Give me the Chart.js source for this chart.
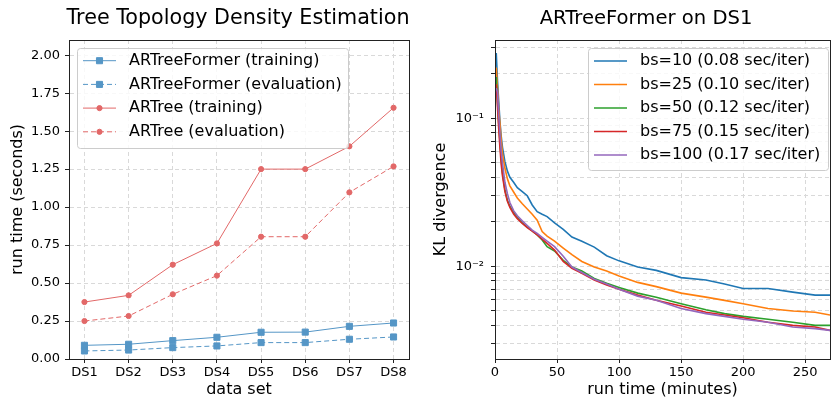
<!DOCTYPE html>
<html><head><meta charset="utf-8">
<script src="https://cdn.jsdelivr.net/npm/chart.js@4.4.1/dist/chart.umd.min.js"></script>
<style>
html,body{margin:0;padding:0;background:#fff;}
#wrap{position:relative;width:831px;height:399px;overflow:hidden;background:#fff;}
.box{position:absolute;top:0;height:399px;}
canvas{display:block;}
</style></head><body>
<div id="wrap">
<div class="box" style="left:0;width:415px"><canvas id="c1" width="415" height="399"></canvas></div>
<div class="box" style="left:415px;width:416px"><canvas id="c2" width="416" height="399"></canvas></div>
</div>
<script>
// ---------- data: left chart ----------
const categories = ['DS1','DS2','DS3','DS4','DS5','DS6','DS7','DS8'];
const artreeformerTraining = [0.090, 0.097, 0.121, 0.143, 0.176, 0.177, 0.215, 0.237];
const artreeformerEvaluation = [0.053, 0.059, 0.075, 0.086, 0.108, 0.108, 0.130, 0.145];
const artreeTraining = [0.375, 0.419, 0.621, 0.761, 1.250, 1.250, 1.400, 1.654];
const artreeEvaluation = [0.250, 0.283, 0.426, 0.549, 0.805, 0.805, 1.097, 1.268];
const leftYTicks = [0, 0.25, 0.5, 0.75, 1.0, 1.25, 1.5, 1.75, 2.0];
const leftSeriesLabels = ['ARTreeFormer (training)','ARTreeFormer (evaluation)','ARTree (training)','ARTree (evaluation)'];

// ---------- data: right chart ----------
const runTimeMinutes = [1, 2, 3, 4, 5, 6, 8, 10, 12, 15, 18, 22, 26, 30, 34, 38, 42, 48, 55, 62, 70, 80, 90, 100, 115, 130, 150, 170, 185, 200, 220, 240, 258, 270];
const klBs10  = [0.276, 0.18, 0.13, 0.095, 0.076, 0.064, 0.051, 0.044, 0.040, 0.037, 0.034, 0.032, 0.030, 0.026, 0.0234, 0.0225, 0.0217, 0.0197, 0.0178, 0.0158, 0.0148, 0.0135, 0.0118, 0.0109, 0.0099, 0.0094, 0.0084, 0.0081, 0.0076, 0.0071, 0.0071, 0.0067, 0.0064, 0.0064];
const klBs25  = [0.22, 0.16, 0.115, 0.092, 0.071, 0.058, 0.046, 0.039, 0.035, 0.0318, 0.029, 0.0265, 0.0244, 0.0225, 0.0205, 0.0172, 0.0160, 0.0148, 0.0133, 0.0120, 0.0108, 0.0099, 0.0093, 0.0086, 0.0078, 0.0073, 0.0066, 0.0062, 0.0059, 0.0056, 0.0052, 0.0050, 0.0049, 0.0047];
const klBs50  = [0.19, 0.13, 0.092, 0.070, 0.053, 0.043, 0.033, 0.028, 0.0255, 0.0232, 0.0214, 0.0197, 0.0184, 0.0174, 0.0163, 0.0151, 0.0136, 0.0127, 0.0110, 0.0099, 0.0093, 0.0083, 0.0077, 0.0072, 0.0066, 0.0062, 0.0056, 0.0051, 0.0048, 0.0046, 0.0044, 0.0042, 0.0040, 0.0040];
const klBs75  = [0.17, 0.12, 0.085, 0.063, 0.049, 0.041, 0.032, 0.0275, 0.0250, 0.0226, 0.0210, 0.0195, 0.0183, 0.0173, 0.0163, 0.0153, 0.0143, 0.0129, 0.0108, 0.0097, 0.0090, 0.0081, 0.0075, 0.0070, 0.0064, 0.0059, 0.0054, 0.0049, 0.0047, 0.0045, 0.0042, 0.0040, 0.0039, 0.0037];
const klBs100 = [0.16, 0.15, 0.105, 0.078, 0.060, 0.050, 0.037, 0.031, 0.027, 0.0238, 0.0220, 0.0203, 0.0189, 0.0176, 0.0167, 0.0157, 0.0148, 0.0136, 0.0117, 0.0099, 0.0091, 0.0082, 0.0076, 0.0070, 0.0063, 0.0059, 0.0052, 0.0048, 0.0046, 0.0044, 0.0042, 0.0039, 0.0038, 0.0037];
const rightSeriesLabels = ['bs=10 (0.08 sec/iter)','bs=25 (0.10 sec/iter)','bs=50 (0.12 sec/iter)','bs=75 (0.15 sec/iter)','bs=100 (0.17 sec/iter)'];
const rightXTicks = [0, 50, 100, 150, 200, 250];
const rightYTicks = [0.003,0.004,0.005,0.006,0.007,0.008,0.009,0.01,0.02,0.03,0.04,0.05,0.06,0.07,0.08,0.09,0.1,0.2,0.3];
const rightYMajorLabels = {0.1: '10\u207B\u00B9', 0.01: '10\u207B\u00B2'};

// ---------- styling ----------
const FONT = 'DejaVu Sans';
Chart.defaults.font.family = FONT;
Chart.defaults.color = '#000';
const BLUE = '#5596c6';
const RED = '#e26868';
const TAB = ['#1f77b4','#ff7f0e','#2ca02c','#d62728','#9467bd'];
const GRID = '#d9d9d9';

function roundRect(ctx, x, y, w, h, r) {
  ctx.beginPath();
  ctx.moveTo(x + r, y);
  ctx.lineTo(x + w - r, y); ctx.arcTo(x + w, y, x + w, y + r, r);
  ctx.lineTo(x + w, y + h - r); ctx.arcTo(x + w, y + h, x + w - r, y + h, r);
  ctx.lineTo(x + r, y + h); ctx.arcTo(x, y + h, x, y + h - r, r);
  ctx.lineTo(x, y + r); ctx.arcTo(x, y, x + r, y, r);
  ctx.closePath();
}
function drawMarker(ctx, style, r, x, y, color) {
  ctx.fillStyle = color; ctx.strokeStyle = color; ctx.lineWidth = 1;
  ctx.beginPath();
  if (style === 'rect') { const s = r * Math.SQRT1_2; ctx.rect(x - s, y - s, 2 * s, 2 * s); }
  else { ctx.arc(x, y, r, 0, Math.PI * 2); }
  ctx.fill(); ctx.stroke();
}

const extras = {
  id: 'extras',
  afterDraw(chart, args, o) {
    const ctx = chart.ctx, a = chart.chartArea;
    ctx.save();
    // legend
    const L = o.legend;
    roundRect(ctx, L.x + 0.5, L.y + 0.5, L.w, L.h, 3);
    ctx.fillStyle = 'rgba(255,255,255,0.8)'; ctx.fill();
    ctx.strokeStyle = '#cccccc'; ctx.lineWidth = 1; ctx.stroke();
    chart.data.datasets.forEach((ds, i) => {
      const y = L.y0 + i * L.dy;
      ctx.strokeStyle = ds.borderColor; ctx.lineWidth = ds.borderWidth;
      ctx.setLineDash(ds.borderDash || []);
      ctx.beginPath(); ctx.moveTo(L.sx1, y); ctx.lineTo(L.sx2, y); ctx.stroke();
      ctx.setLineDash([]);
      if (ds.pointRadius > 0) drawMarker(ctx, ds.pointStyle, ds.pointRadius, (L.sx1 + L.sx2) / 2, y, ds.borderColor);
      ctx.fillStyle = '#000'; ctx.font = L.font; ctx.textBaseline = 'middle'; ctx.textAlign = 'left';
      ctx.fillText(ds.label, L.tx, y);
    });
    // frame
    ctx.strokeStyle = '#222'; ctx.lineWidth = 1;
    ctx.strokeRect(Math.round(a.left) + 0.5, Math.round(a.top) + 0.5, Math.round(a.right - a.left), Math.round(a.bottom - a.top));
    // title
    ctx.fillStyle = '#000'; ctx.font = o.titleFont; ctx.textAlign = 'center'; ctx.textBaseline = 'middle';
    ctx.fillText(o.title, o.titleX, o.titleY);
    ctx.restore();
  }
};

const pts = vals => categories.map((c, i) => ({x: i, y: vals[i]}));
const tpts = vals => runTimeMinutes.map((t, i) => ({x: t, y: vals[i]}));

// ---------- left chart ----------
const leftStyles = [
  {c: BLUE, dash: [], ps: 'rect', r: 4.3},
  {c: BLUE, dash: [5, 3], ps: 'rect', r: 4.3},
  {c: RED, dash: [], ps: 'circle', r: 2.6},
  {c: RED, dash: [5, 3], ps: 'circle', r: 2.6}
];
const leftSeries = [artreeformerTraining, artreeformerEvaluation, artreeTraining, artreeEvaluation];
new Chart(document.getElementById('c1'), {
  type: 'line',
  data: {
    datasets: leftSeries.map((vals, i) => ({
      label: leftSeriesLabels[i], data: pts(vals),
      borderColor: leftStyles[i].c, backgroundColor: leftStyles[i].c,
      pointBackgroundColor: leftStyles[i].c, pointBorderColor: leftStyles[i].c,
      borderWidth: 1, borderDash: leftStyles[i].dash,
      pointStyle: leftStyles[i].ps, pointRadius: leftStyles[i].r, pointBorderWidth: 1,
      tension: 0, order: 4 - i
    }))
  },
  options: {
    responsive: false, animation: false, events: [],
    layout: {padding: {left: 0, right: 6, top: 40, bottom: 0}},
    plugins: {
      legend: {display: false}, tooltip: {enabled: false},
      extras: {
        title: 'Tree Topology Density Estimation', titleX: 238, titleY: 19, titleFont: '20.7px ' + FONT,
        legend: {x: 77, y: 48, w: 271, h: 100, y0: 60.7, dy: 23.7, sx1: 83, sx2: 116, tx: 129, font: '16px ' + FONT}
      }
    },
    scales: {
      x: {
        type: 'linear', min: -0.35, max: 7.35,
        afterBuildTicks: s => { s.ticks = categories.map((c, i) => ({value: i})); },
        afterFit: s => { s.height = 40; },
        ticks: {callback: v => categories[v], font: {size: 13}, padding: 2, maxRotation: 0, autoSkip: false, color: '#000'},
        grid: {color: GRID, tickColor: '#222', tickLength: 4, lineWidth: 1},
        border: {display: true, color: '#222', dash: [4, 3]},
        title: {display: true, text: 'data set', font: {size: 16}, padding: {top: 0, bottom: 0}, color: '#000'}
      },
      y: {
        type: 'linear', min: 0, max: 2.1,
        afterBuildTicks: s => { s.ticks = leftYTicks.map(v => ({value: v})); },
        afterFit: s => { s.width = 69; },
        ticks: {callback: v => v.toFixed(2), font: {size: 13}, padding: 5, autoSkip: false, color: '#000'},
        grid: {color: GRID, tickColor: '#222', tickLength: 4, lineWidth: 1},
        border: {display: true, color: '#222', dash: [4, 3]},
        title: {display: true, text: 'run time (seconds)', font: {size: 16}, padding: {top: 8, bottom: 0}, color: '#000'}
      }
    }
  },
  plugins: [extras]
});

// ---------- right chart ----------
const rightSeries = [klBs10, klBs25, klBs50, klBs75, klBs100];
new Chart(document.getElementById('c2'), {
  type: 'line',
  data: {
    datasets: rightSeries.map((vals, i) => ({
      label: rightSeriesLabels[i], data: tpts(vals),
      borderColor: TAB[i], backgroundColor: TAB[i],
      borderWidth: 1.6, pointRadius: 0, tension: 0, order: 5 - i
    }))
  },
  options: {
    responsive: false, animation: false, events: [],
    layout: {padding: {left: 0, right: 1, top: 40, bottom: 0}},
    plugins: {
      legend: {display: false}, tooltip: {enabled: false},
      extras: {
        title: 'ARTreeFormer on DS1', titleX: 231, titleY: 19, titleFont: '19.6px ' + FONT,
        legend: {x: 173, y: 48, w: 240, h: 122, y0: 61, dy: 23.5, sx1: 179, sx2: 212, tx: 225, font: '16px ' + FONT}
      }
    },
    scales: {
      x: {
        type: 'linear', min: 0, max: 270,
        afterBuildTicks: s => { s.ticks = rightXTicks.map(v => ({value: v})); },
        afterFit: s => { s.height = 40; },
        ticks: {font: {size: 13}, padding: 2, maxRotation: 0, autoSkip: false, color: '#000', callback: v => String(v)},
        grid: {color: GRID, tickColor: '#222', tickLength: 4, lineWidth: 1},
        border: {display: true, color: '#222', dash: [4, 3]},
        title: {display: true, text: 'run time (minutes)', font: {size: 16}, padding: {top: 0, bottom: 0}, color: '#000'}
      },
      y: {
        type: 'logarithmic', min: 0.00237, max: 0.338,
        afterBuildTicks: s => { s.ticks = rightYTicks.map(v => ({value: v, major: !!rightYMajorLabels[v]})); },
        afterFit: s => { s.width = 80; },
        ticks: {font: {size: 13}, padding: 7, autoSkip: false, color: '#000', callback: v => rightYMajorLabels[v] || ''},
        grid: {color: GRID, tickColor: '#222', tickLength: 4, lineWidth: 1},
        border: {display: true, color: '#222', dash: [4, 3]},
        title: {display: true, text: 'KL divergence', font: {size: 16}, padding: {top: 16, bottom: 0}, color: '#000'}
      }
    }
  },
  plugins: [extras]
});
</script>
</body></html>
